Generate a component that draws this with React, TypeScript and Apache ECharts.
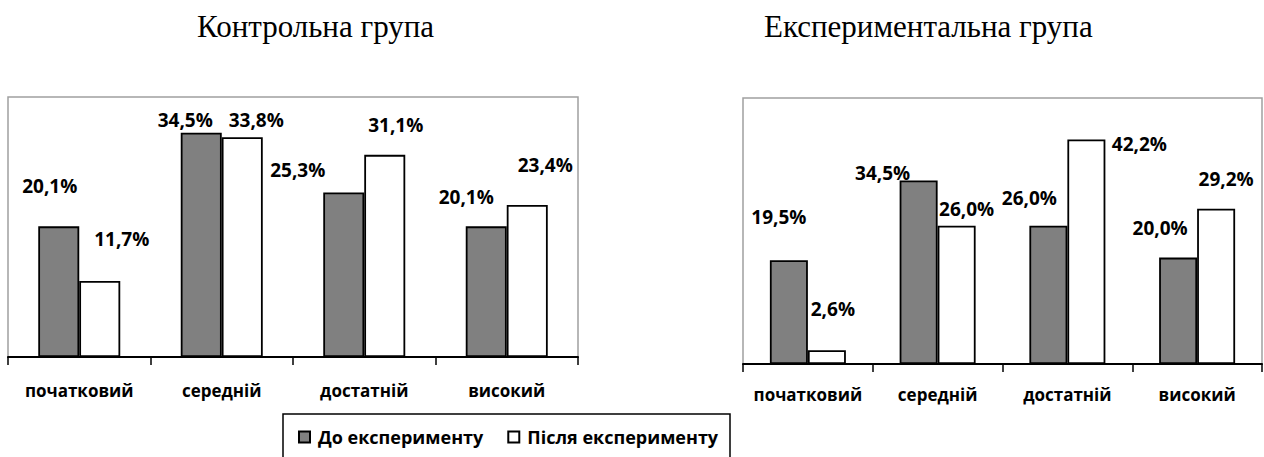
import React, { useEffect, useRef } from "react";
import * as echarts from "echarts";

const categories = ["початковий", "середній", "достатній", "високий"];
const seriesNames = ["До експерименту", "Після експерименту"];
const controlBefore = [20.1, 34.5, 25.3, 20.1];
const controlAfter = [11.7, 33.8, 31.1, 23.4];
const expBefore = [19.5, 34.5, 26.0, 20.0];
const expAfter = [2.6, 26.0, 42.2, 29.2];
const titles = ["Контрольна група", "Експериментальна група"];

// label nudges (style only), [dx, dy] relative to the default top label position
const nudgeCB = [[-9, -31], [-16, -3], [-46, -13], [-20, -20]];
const nudgeCA = [[22, -32], [14, -8], [11, -20], [18, -30]];
const nudgeEB = [[-10, -34], [-36, 2], [-19, -18], [-18, -20]];
const nudgeEA = [[6, -32], [10, -7], [53, 14], [10, -20]];

const LABEL_FONT = "'Open Sans', 'Noto Sans', sans-serif";

const fmt = (v: number) => v.toFixed(1).replace(".", ",") + "%";

function mkData(vals: number[], nudges: number[][]) {
  return vals.map((v, i) => ({
    value: v,
    label: { offset: nudges[i] },
  }));
}

export default function App() {
  const ref = useRef<HTMLDivElement>(null);
  useEffect(() => {
    if (!ref.current) return;
    const chart = echarts.init(ref.current, undefined, { renderer: "svg" });
    const labelStyle = {
      show: true,
      position: "top" as const,
      distance: 0,
      formatter: (p: any) => fmt(p.value),
      fontFamily: LABEL_FONT,
      fontWeight: "bold" as const,
      fontSize: 19,
      color: "#000",
    };
    const xAxisBase = {
      type: "category" as const,
      data: categories,
      axisLine: { lineStyle: { color: "#000", width: 2 } },
      axisTick: { show: true, length: 8, lineStyle: { color: "#000", width: 1.5 } },
      axisLabel: {
        fontFamily: LABEL_FONT,
        fontWeight: "bold" as const,
        fontSize: 17,
        color: "#000",
        interval: 0,
      },
    };
    const grayStyle = { color: "#808080", borderColor: "#000", borderWidth: 1.8 };
    const whiteStyle = { color: "#ffffff", borderColor: "#000", borderWidth: 1.8 };
    const titleText = { fontFamily: "'Liberation Serif', serif", fontSize: 31, fontWeight: "normal", color: "#000" };
    chart.setOption({
      animation: false,
      title: [
        { text: titles[0], left: 192, top: 6, textStyle: titleText },
        { text: titles[1], left: 759, top: 6, textStyle: titleText },
      ],
      legend: {
        left: 293,
        top: 423,
        itemWidth: 11,
        itemHeight: 11,
        itemGap: 24,
        icon: "rect",
        data: seriesNames,
        textStyle: {
          fontFamily: LABEL_FONT,
          fontWeight: "bold",
          fontSize: 18,
          color: "#000",
          padding: [0, 0, 0, 3],
        },
      },
      graphic: [
        {
          type: "rect",
          shape: { x: 283, y: 414, width: 447, height: 60 },
          style: { fill: "none", stroke: "#000", lineWidth: 1.5 },
          silent: true,
        },
      ],
      grid: [
        { left: 8, top: 97, width: 570, height: 260, show: true, borderColor: "#a0a0a0", borderWidth: 1.5 },
        { left: 743, top: 98, width: 519, height: 266, show: true, borderColor: "#a0a0a0", borderWidth: 1.5 },
      ],
      xAxis: [
        { ...xAxisBase, gridIndex: 0, axisLabel: { ...xAxisBase.axisLabel, margin: 25 } },
        { ...xAxisBase, gridIndex: 1, axisLabel: { ...xAxisBase.axisLabel, margin: 22 } },
      ],
      yAxis: [
        { type: "value", gridIndex: 0, min: 0, max: 40, show: false, splitLine: { show: false } },
        { type: "value", gridIndex: 1, min: 0, max: 50, show: false, splitLine: { show: false } },
      ],
      series: [
        {
          name: seriesNames[0],
          type: "bar",
          xAxisIndex: 0,
          yAxisIndex: 0,
          barWidth: 41,
          barGap: "0%",
          itemStyle: grayStyle,
          label: labelStyle,
          data: mkData(controlBefore, nudgeCB),
        },
        {
          name: seriesNames[1],
          type: "bar",
          xAxisIndex: 0,
          yAxisIndex: 0,
          barWidth: 41,
          barGap: "0%",
          itemStyle: whiteStyle,
          label: labelStyle,
          data: mkData(controlAfter, nudgeCA),
        },
        {
          name: seriesNames[0],
          type: "bar",
          xAxisIndex: 1,
          yAxisIndex: 1,
          barWidth: 38,
          barGap: "0%",
          itemStyle: grayStyle,
          label: labelStyle,
          data: mkData(expBefore, nudgeEB),
        },
        {
          name: seriesNames[1],
          type: "bar",
          xAxisIndex: 1,
          yAxisIndex: 1,
          barWidth: 38,
          barGap: "0%",
          itemStyle: whiteStyle,
          label: labelStyle,
          data: mkData(expAfter, nudgeEA),
        },
      ],
    });
    return () => chart.dispose();
  }, []);
  return (
    <div
      ref={ref}
      style={{ position: "absolute", left: 0, top: 0, width: 1264, height: 457, background: "#fff" }}
    />
  );
}
